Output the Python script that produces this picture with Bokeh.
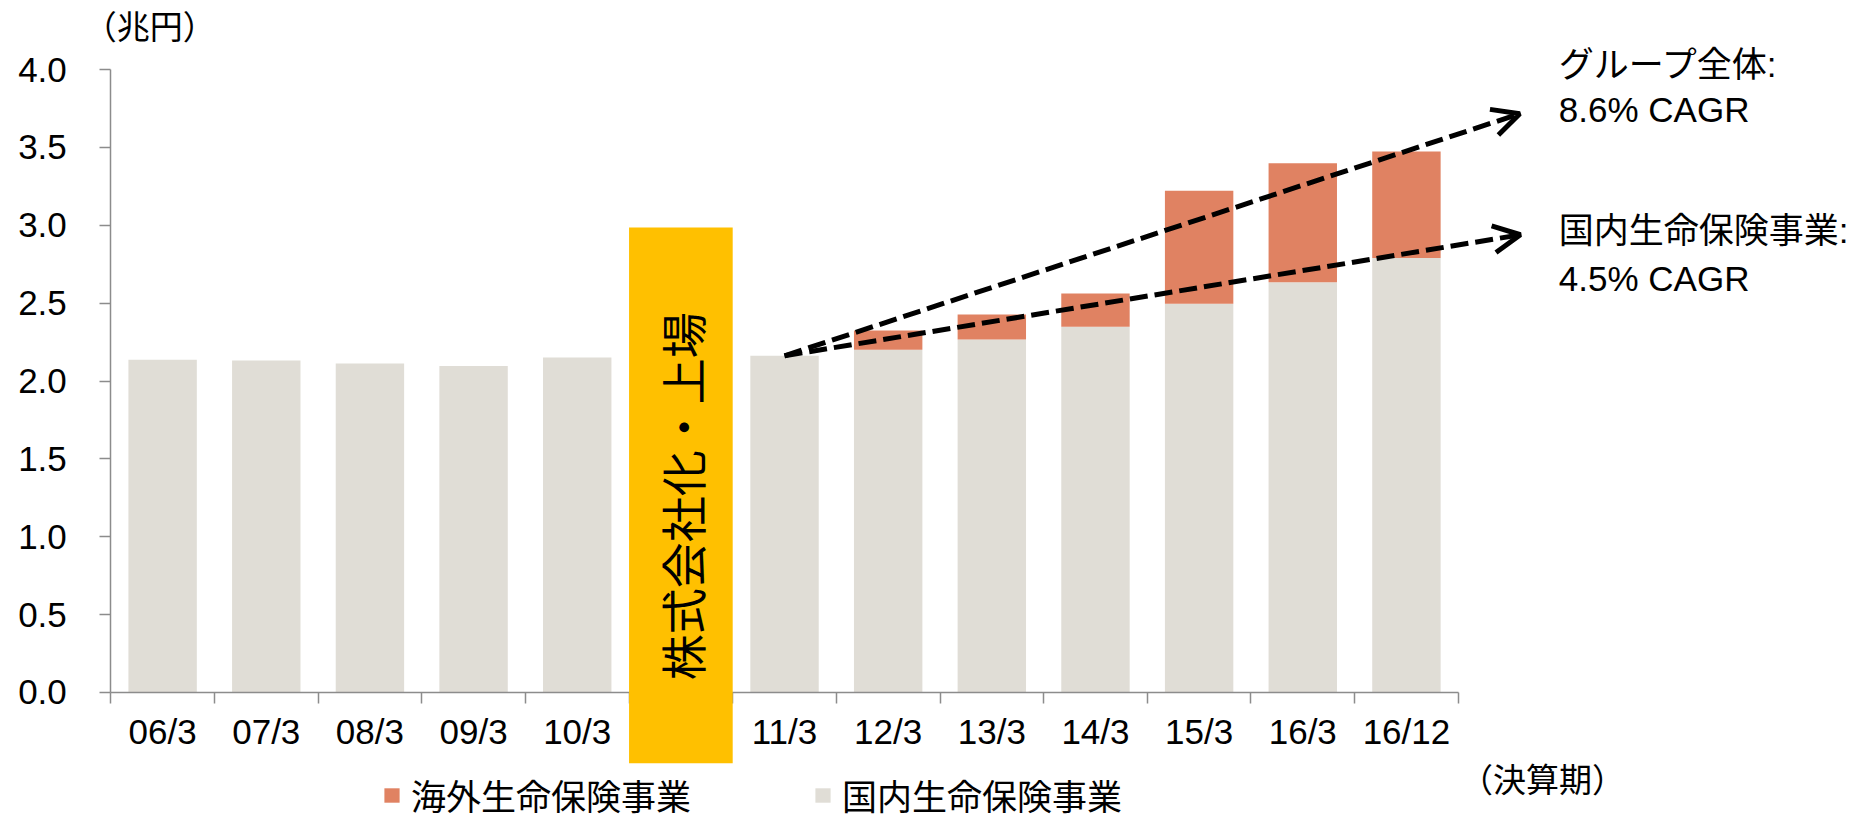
from bokeh.plotting import figure
from bokeh.models import (Range1d, LinearAxis, FixedTicker, NumeralTickFormatter,
                          ColumnDataSource, Legend, LegendItem, Label, Arrow, OpenHead)
from bokeh.core.properties import value
from bokeh.embed import file_html
from bokeh.resources import INLINE

# ---- data -------------------------------------------------------------
periods = ["06/3", "07/3", "08/3", "09/3", "10/3", "11/3", "12/3",
           "13/3", "14/3", "15/3", "16/3", "16/12"]
domestic = [2.136, 2.132, 2.112, 2.097, 2.151, 2.162, 2.200,
            2.266, 2.348, 2.496, 2.634, 2.789]
overseas = [0.0, 0.0, 0.0, 0.0, 0.0, 0.0, 0.124,
            0.161, 0.214, 0.725, 0.764, 0.685]
series_names = ["海外生命保険事業", "国内生命保険事業"]
y_ticks = [0.0, 0.5, 1.0, 1.5, 2.0, 2.5, 3.0, 3.5, 4.0]

ipo_after = "10/3"
ipo_text = "株式会社化・上場"
ipo_height = 2.985
cagr_labels = [("グループ全体:", "8.6% CAGR"), ("国内生命保険事業:", "4.5% CAGR")]
unit_label = "（兆円）"
period_label = "（決算期）"

# ---- styling ----------------------------------------------------------
FONT = "Liberation Sans, Noto Sans CJK JP, sans-serif"
C_DOM = "#E0DDD6"
C_OVR = "#E08262"
C_IPO = "#FFC000"
AXIS_C = "#8C8C8C"

# slot positions (one empty slot for the IPO marker)
ipo_slot = periods.index(ipo_after) + 1
xs = [i if i < ipo_slot else i + 1 for i in range(len(periods))]
n_slots = len(periods) + 1
total = [d + o for d, o in zip(domestic, overseas)]

src = ColumnDataSource(dict(x=xs, dom=domestic, tot=total, per=periods))

p = figure(width=1855, height=818,
           x_range=Range1d(-1.56416, 16.33261), y_range=Range1d(-0.80899, 4.44302),
           x_axis_type=None, y_axis_type=None,
           output_backend="svg", toolbar_location=None, min_border=0,
           outline_line_color=None)
p.background_fill_color = "white"
p.border_fill_color = "white"

r_dom = p.vbar(x="x", top="dom", bottom=0, width=0.66, source=src,
               fill_color=C_DOM, line_color=None)
r_ovr = p.vbar(x="x", top="tot", bottom="dom", width=0.66, source=src,
               fill_color=C_OVR, line_color=None)

# axes
yax = LinearAxis(fixed_location=-0.5, bounds=(0, 4),
                 ticker=FixedTicker(ticks=y_ticks),
                 formatter=NumeralTickFormatter(format="0.0"))
yax.axis_line_color = AXIS_C
yax.axis_line_width = 1.5
yax.major_tick_line_color = AXIS_C
yax.major_tick_line_width = 1.5
yax.major_tick_in = 0
yax.major_tick_out = 11
yax.minor_tick_line_color = None
yax.major_label_standoff = 33
yax.major_label_text_font = FONT
yax.major_label_text_font_size = "35px"
yax.major_label_text_color = "black"
p.add_layout(yax, "left")

bounds = [k - 0.5 for k in range(n_slots + 1)]
xax = LinearAxis(fixed_location=0, bounds=(-0.5, n_slots - 0.5),
                 ticker=FixedTicker(ticks=bounds),
                 major_label_overrides={b: "" for b in bounds})
xax.axis_line_color = AXIS_C
xax.axis_line_width = 1.5
xax.major_tick_line_color = AXIS_C
xax.major_tick_line_width = 1.5
xax.major_tick_in = 0
xax.major_tick_out = 11
xax.minor_tick_line_color = None
p.add_layout(xax, "below")

xlab = LinearAxis(fixed_location=0, ticker=FixedTicker(ticks=xs),
                  major_label_overrides={x: s for x, s in zip(xs, periods)})
xlab.axis_line_color = None
xlab.major_tick_line_color = None
xlab.major_tick_in = 0
xlab.major_tick_out = 0
xlab.minor_tick_line_color = None
xlab.major_label_standoff = 20
xlab.major_label_text_font = FONT
xlab.major_label_text_font_size = "35px"
xlab.major_label_text_color = "black"
p.add_layout(xlab, "below")

# IPO marker box and text
p.quad(left=[ipo_slot - 0.5], right=[ipo_slot + 0.5], top=[ipo_height], bottom=[-0.454],
       fill_color=C_IPO, line_color=None, level="overlay")
p.text(x=[ipo_slot], y=[1.26], text=[ipo_text], angle=1.5708,
       text_align="center", text_baseline="middle",
       text_font=value("Noto Sans CJK JP"), text_font_size="46px",
       text_color="black", level="overlay")

# CAGR arrows starting from the top of the 11/3 bar
i0 = periods.index("11/3")
x_start, y_start = xs[i0], total[i0]
for (ye, xe) in [(3.716, 13.094), (2.939, 13.10)]:
    p.add_layout(Arrow(x_start=x_start, y_start=y_start, x_end=xe, y_end=ye,
                       line_color="black", line_width=5, line_dash="18 7",
                       end=OpenHead(size=27, line_width=5, line_color="black")))

# CAGR labels
for (l1, l2), (b1, b2) in zip(cagr_labels, [(4.032, 3.741), (2.966, 2.660)]):
    for t, yy in [(l1, b1), (l2, b2)]:
        p.add_layout(Label(x=13.47, y=yy, text=t, text_font=FONT, text_font_size="35px",
                           text_color="black", text_baseline="alphabetic", text_align="left"))

p.add_layout(Label(x=-0.124, y=4.272, text=unit_label, text_font=FONT, text_font_size="33px",
                   text_color="black", text_baseline="middle", text_align="center"))
p.add_layout(Label(x=13.313, y=-0.565, text=period_label, text_font=FONT, text_font_size="33px",
                   text_color="black", text_baseline="middle", text_align="center"))

legend = Legend(items=[LegendItem(label=series_names[0], renderers=[r_ovr]),
                       LegendItem(label=series_names[1], renderers=[r_dom])],
                orientation="horizontal", location=(382, -2),
                glyph_width=19, glyph_height=18, label_standoff=10, spacing=122,
                padding=0, margin=0, border_line_color=None, background_fill_alpha=0,
                label_text_font=FONT, label_text_font_size="35px", label_text_color="black")
p.add_layout(legend)

open("out.html", "w").write(file_html(p, INLINE))
